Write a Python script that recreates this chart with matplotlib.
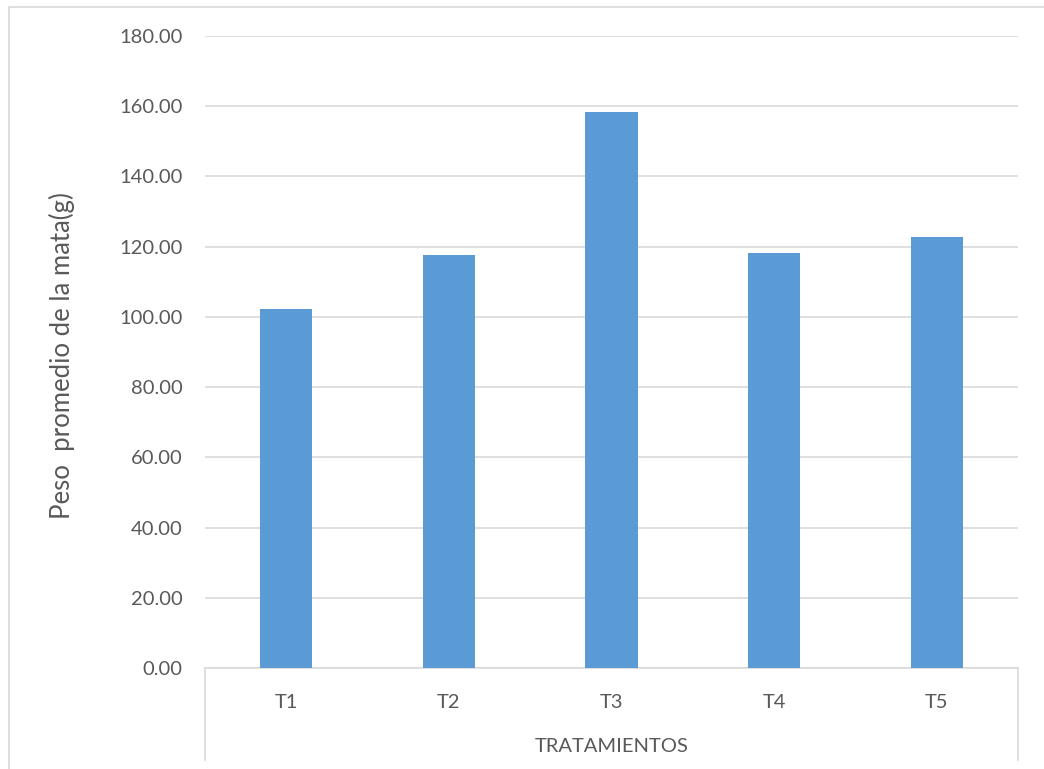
import matplotlib.pyplot as plt
from matplotlib.patches import Rectangle

plt.rcParams['font.family'] = ['Lato', 'DejaVu Sans']

categories = ["T1", "T2", "T3", "T4", "T5"]
peso = [102.2, 117.6, 158.4, 118.2, 122.8]
y_ticks = [0, 20, 40, 60, 80, 100, 120, 140, 160, 180]

W, H = 1044, 769
fig = plt.figure(figsize=(W / 100, H / 100), dpi=100)
ax = fig.add_axes([205 / W, (H - 668) / H, 813 / W, (668 - 36) / H])

grid_c = "#D9D9D9"
text_c = "#595959"

ax.bar(range(len(categories)), peso, width=0.32, color="#5B9BD5", zorder=3)
ax.set_xlim(-0.5, len(categories) - 0.5)
ax.set_ylim(0, 180)
ax.set_yticks(y_ticks)
ax.set_yticklabels([f"{v:.2f}" for v in y_ticks])
ax.set_xticks(range(len(categories)))
ax.set_xticklabels(categories)
ax.yaxis.grid(True, color=grid_c, lw=1.2, zorder=0)
ax.tick_params(axis="y", length=0, pad=16, labelsize=14.5, labelcolor=text_c)
ax.tick_params(axis="x", length=0, pad=19, labelsize=14.5, labelcolor=text_c)
for s in ["left", "right", "top"]:
    ax.spines[s].set_visible(False)
ax.spines["bottom"].set_color(grid_c)
ax.spines["bottom"].set_linewidth(1.2)

# multi-level category axis frame
drop = (760 - 668) / (668 - 36)
tr = ax.get_xaxis_transform()
for xv in [-0.5, len(categories) - 0.5]:
    ax.plot([xv, xv], [0, -drop], transform=tr, color=grid_c, lw=1.2, clip_on=False)
ax.text((len(categories) - 1) / 2, -(746 - 668) / (668 - 36), "TRATAMIENTOS",
        transform=tr, ha="center", va="center", fontsize=14.5, color=text_c)

ax.set_ylabel("Peso  promedio de la mata(g)", fontsize=18.5, color=text_c)
ax.yaxis.set_label_coords(-(205 - 75) / 813, (668 - 356) / (668 - 36))

fig.patches.append(Rectangle((9 / W, -0.01), 1.0, (H - 7) / H + 0.01,
                             transform=fig.transFigure, fill=False,
                             edgecolor=grid_c, lw=1.2))

fig.savefig("out.png", dpi=100)
